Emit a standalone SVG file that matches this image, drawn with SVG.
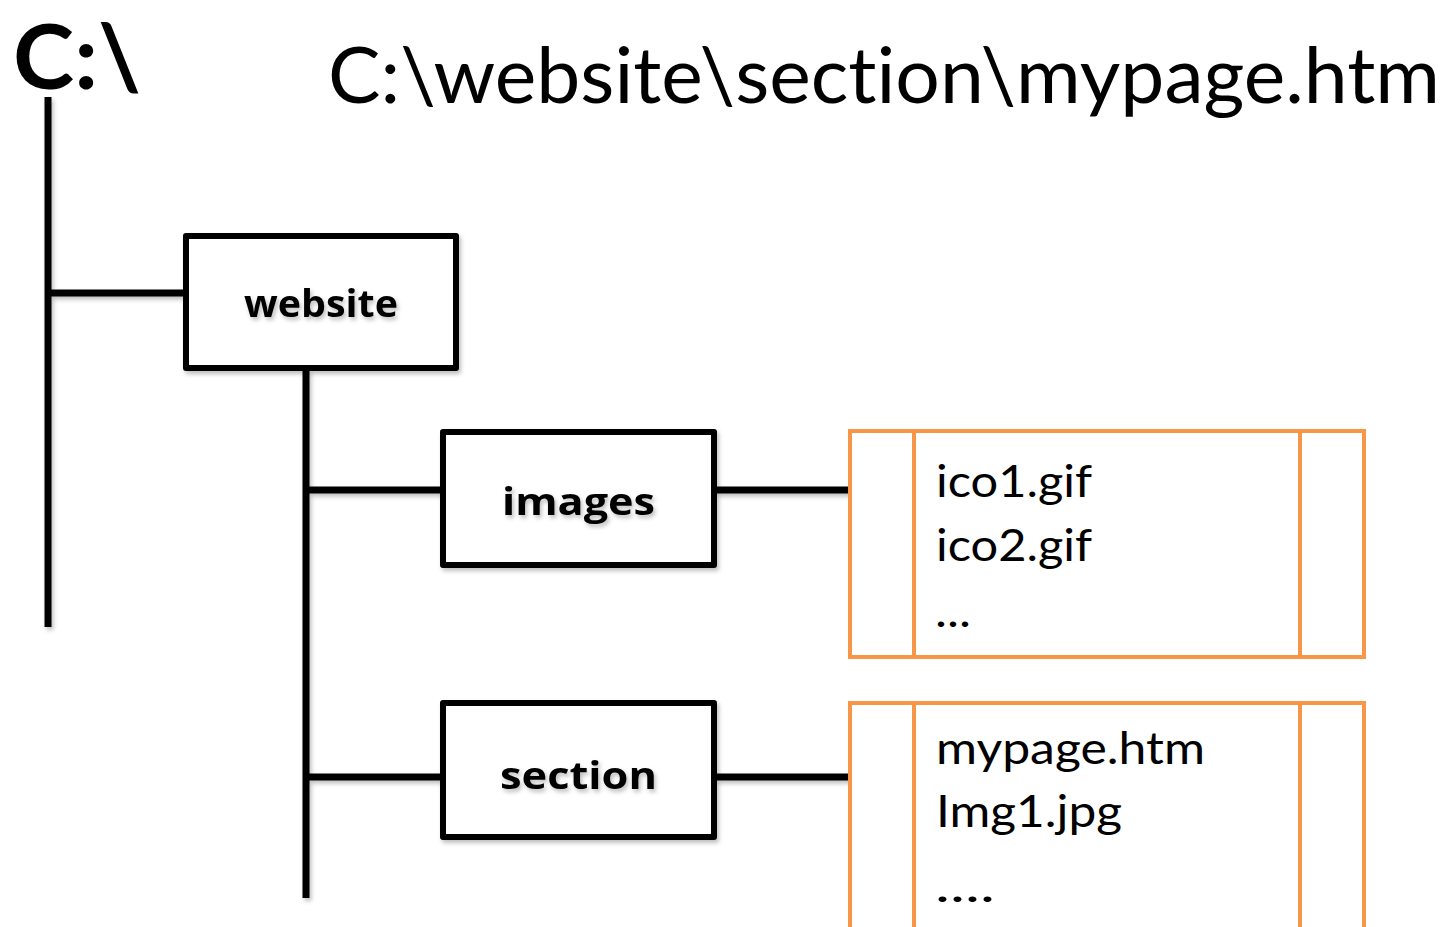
<svg xmlns="http://www.w3.org/2000/svg" width="1452" height="927" viewBox="0 0 1452 927">
<defs>
<filter id="sh" x="-20%" y="-20%" width="140%" height="140%">
<feDropShadow dx="2" dy="3" stdDeviation="2" flood-color="#000" flood-opacity="0.25"/>
</filter>
</defs>
<style>
text{font-variant-ligatures:none}
.ln{stroke:#000;stroke-width:7;fill:none}
.bx{stroke:#000;stroke-width:6;fill:#fff;stroke-linejoin:round}
.ob{stroke:#F79646;stroke-width:4;fill:#fff}
.ol{stroke:#F79646;stroke-width:4}
.lbl{font-family:"Open Sans",Lato,sans-serif;font-weight:bold;font-size:38px;fill:#000}
.fl{font-family:Lato,"Open Sans",sans-serif;font-size:44px;fill:#000}
</style>
<rect width="1452" height="927" fill="#fff"/>
<text x="13" y="89" font-family="Lato,'Open Sans',sans-serif" font-weight="bold" font-size="90" textLength="128" lengthAdjust="spacingAndGlyphs">C:\</text>
<text x="328" y="103" font-family="Lato,'Open Sans',sans-serif" font-size="77" textLength="1112" lengthAdjust="spacingAndGlyphs">C:\website\section\mypage.htm</text>
<g id="connectors" filter="url(#sh)">
<line class="ln" x1="48" y1="97" x2="48" y2="627"/>
<line class="ln" x1="48" y1="293" x2="184" y2="293"/>
<line class="ln" x1="306" y1="370" x2="306" y2="898"/>
<line class="ln" x1="306" y1="490" x2="442" y2="490"/>
<line class="ln" x1="306" y1="777" x2="442" y2="777"/>
<line class="ln" x1="716" y1="490" x2="851" y2="490"/>
<line class="ln" x1="716" y1="777" x2="851" y2="777"/>
</g>
<g id="website">
<rect class="bx" x="186" y="236" width="270" height="132" filter="url(#sh)"/>
<text class="lbl" x="244" y="317" textLength="154" lengthAdjust="spacingAndGlyphs" filter="url(#sh)">website</text>
</g>
<g id="images">
<rect class="bx" x="443" y="432" width="271" height="133" filter="url(#sh)"/>
<text class="lbl" x="502" y="515" textLength="153" lengthAdjust="spacingAndGlyphs" filter="url(#sh)">images</text>
</g>
<g id="section">
<rect class="bx" x="443" y="703" width="271" height="134" filter="url(#sh)"/>
<text class="lbl" x="500" y="789" textLength="157" lengthAdjust="spacingAndGlyphs" filter="url(#sh)">section</text>
</g>
<g id="images-files">
<rect class="ob" x="850" y="431" width="514" height="226"/>
<line class="ol" x1="914" y1="431" x2="914" y2="657"/>
<line class="ol" x1="1300" y1="431" x2="1300" y2="657"/>
<text class="fl" x="936" y="497" textLength="156" lengthAdjust="spacingAndGlyphs">ico1.gif</text>
<text class="fl" x="936" y="561" textLength="156" lengthAdjust="spacingAndGlyphs">ico2.gif</text>
<text class="fl" x="935" y="627" textLength="36" lengthAdjust="spacingAndGlyphs">...</text>
</g>
<g id="section-files">
<rect class="ob" x="850" y="703" width="514" height="260"/>
<line class="ol" x1="914" y1="703" x2="914" y2="963"/>
<line class="ol" x1="1300" y1="703" x2="1300" y2="963"/>
<text class="fl" x="936" y="764" textLength="269" lengthAdjust="spacingAndGlyphs">mypage.htm</text>
<text class="fl" x="936" y="827" textLength="186" lengthAdjust="spacingAndGlyphs">Img1.jpg</text>
<text class="fl" x="935" y="902" textLength="60" lengthAdjust="spacingAndGlyphs">....</text>
</g>
</svg>
